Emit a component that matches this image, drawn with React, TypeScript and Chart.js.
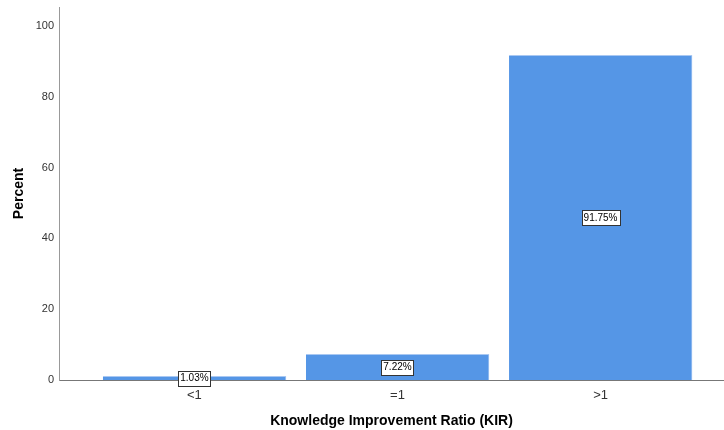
import React, { useEffect, useRef } from "react";
import { Chart, registerables } from "chart.js";

Chart.register(...registerables);

const categories = ["<1", "=1", ">1"];
const percentValues = [1.03, 7.22, 91.75];
const valueLabels = ["1.03%", "7.22%", "91.75%"];
const yTicks = [0, 20, 40, 60, 80, 100];

const FONT = "'Liberation Sans', Arial, sans-serif";

const labelPlugin = {
  id: "boxLabels",
  afterDatasetsDraw(chart: any) {
    const ctx = chart.ctx;
    const meta = chart.getDatasetMeta(0);
    ctx.save();
    ctx.font = `10px ${FONT}`;
    ctx.textAlign = "center";
    ctx.textBaseline = "middle";
    meta.data.forEach((bar: any, i: number) => {
      const text = valueLabels[i];
      const cx = bar.x;
      const cy = (bar.y + bar.base) / 2;
      const w = ctx.measureText(text).width + 4;
      const h = 15;
      const x0 = Math.round(cx - w / 2) + 0.5;
      const y0 = Math.round(cy - h / 2) + 0.5;
      ctx.fillStyle = "#ffffff";
      ctx.fillRect(x0, y0, Math.round(w), h);
      ctx.strokeStyle = "#333333";
      ctx.lineWidth = 1;
      ctx.strokeRect(x0, y0, Math.round(w), h);
      ctx.fillStyle = "#000000";
      ctx.fillText(text, cx, cy + 0.5);
    });
    ctx.restore();
  },
};

export default function App() {
  const ref = useRef<HTMLCanvasElement | null>(null);
  useEffect(() => {
    if (!ref.current) return;
    const chart = new Chart(ref.current, {
      type: "bar",
      data: {
        datasets: [
          {
            data: percentValues.map((v, i) => ({ x: i, y: v })),
            backgroundColor: "#5596e6",
            borderColor: "#a9c8f2",
            borderWidth: { top: 1, right: 1, left: 0, bottom: 0 },
            barThickness: 183,
          },
        ],
      },
      options: {
        responsive: false,
        animation: false,
        layout: { padding: { top: 7, right: 0, left: 0, bottom: 0 } },
        plugins: {
          legend: { display: false },
          tooltip: { enabled: false },
        },
        scales: {
          x: {
            type: "linear",
            offset: false,
            min: -0.667,
            max: 2.608,
            afterBuildTicks: (scale: any) => {
              scale.ticks = categories.map((_, i) => ({ value: i }));
            },
            afterFit: (scale: any) => {
              scale.height = 50;
              scale.paddingLeft = 0;
              scale.paddingRight = 0;
            },
            ticks: {
              callback: (v: any) => categories[Math.round(Number(v))] ?? "",
              font: { family: FONT, size: 13 },
              color: "#333333",
              padding: 8,
              autoSkip: false,
              maxRotation: 0,
            },
            grid: { display: false, drawTicks: false, offset: false },
            border: { display: true, color: "#777777", width: 1 },
            title: {
              display: true,
              text: "Knowledge Improvement Ratio (KIR)",
              font: { family: FONT, size: 14, weight: "bold" },
              color: "#000000",
              padding: { top: 0, bottom: 0 },
            },
          },
          y: {
            min: 0,
            max: 105.4,
            afterBuildTicks: (scale: any) => {
              scale.ticks = yTicks.map((v) => ({ value: v }));
            },
            afterFit: (scale: any) => {
              scale.width = 59;
              scale.paddingTop = 0;
              scale.paddingBottom = 0;
            },
            ticks: {
              font: { family: FONT, size: 11 },
              color: "#333333",
              padding: 5,
            },
            grid: { display: false, drawTicks: false },
            border: { display: true, color: "#999999", width: 1 },
            title: {
              display: true,
              text: "Percent",
              font: { family: FONT, size: 14, weight: "bold" },
              color: "#000000",
              padding: { top: 10.5, bottom: 0 },
            },
          },
        },
      },
      plugins: [labelPlugin],
    } as any);
    return () => chart.destroy();
  }, []);
  return (
    <div style={{ position: "fixed", left: 0, top: 0, width: 724, height: 430, background: "#fff" }}>
      <canvas ref={ref} width={724} height={430} style={{ width: 724, height: 430 }} />
    </div>
  );
}
